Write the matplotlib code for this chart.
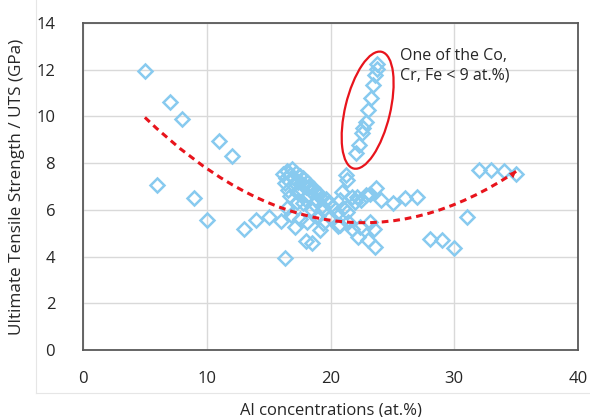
import numpy as np
import matplotlib
matplotlib.use('Agg')
import matplotlib.pyplot as plt
from matplotlib.patches import Ellipse, PathPatch
from matplotlib.path import Path
from matplotlib.lines import Line2D
import matplotlib.transforms as mtransforms

plt.rcParams['font.family'] = ['Open Sans', 'DejaVu Sans']

# ======================
# DATA
# ======================

# isolated low-Al alloys
al_low = [5.0, 7.0, 8.0, 11.0, 12.0, 6.0, 9.0, 10.0, 13.0, 14.0, 15.0, 16.0, 16.3]
uts_low = [11.95, 10.62, 9.9, 8.95, 8.3, 7.07, 6.5, 5.57, 5.18, 5.55, 5.7, 5.52, 3.94]

# dense cluster 16-21 at.%
al_mid = [16.2, 16.5, 16.9, 16.3, 17.3, 17.8, 18.35, 18.9, 17.8, 17.1, 18.1,
          18.0, 18.5, 19.15, 19.4, 19.96, 19.42, 20.2, 20.5, 20.63, 20.77, 20.9,
          17.2, 17.5, 18.1, 18.6, 19.1, 19.6, 17.0, 17.6, 18.2, 18.7, 19.3,
          16.7, 17.3, 16.5, 16.8, 17.5, 19.0, 18.5,
          16.4, 16.7, 17.0, 17.4, 17.7, 18.0, 18.3, 18.8, 19.2, 19.8, 16.6, 17.9]
uts_mid = [7.55, 7.65, 7.75, 7.15, 6.78, 7.37, 6.85, 6.42, 6.28, 5.28, 5.5,
           4.68, 4.6, 5.14, 5.42, 5.7, 6.0, 6.14, 5.85, 5.31, 6.42, 6.78,
           7.6, 7.45, 7.2, 6.95, 6.7, 6.45, 7.05, 6.9, 6.6, 6.25, 6.15,
           6.6, 6.35, 6.1, 5.8, 5.6, 5.75, 6.0,
           7.35, 7.5, 7.4, 7.2, 7.1, 7.0, 7.0, 6.75, 6.5, 6.3, 6.85, 6.45]

# 21-27 at.%
al_hi = [21.25, 21.3, 21.7, 22.0, 22.5, 22.9, 23.2, 23.7, 24.1, 25.07, 26.0, 27.0,
         21.3, 21.4, 22.4, 23.2, 21.7, 22.25, 23.05, 23.6, 23.5, 21.0, 22.1, 20.77]
uts_hi = [7.5, 7.3, 6.57, 6.35, 6.42, 6.64, 6.7, 6.92, 6.42, 6.3, 6.52, 6.57,
          5.92, 5.5, 5.28, 5.5, 5.17, 4.85, 4.71, 4.42, 5.17, 6.1, 6.56, 5.35]

# Co, Cr or Fe < 9 at.%
al_ell = [23.73, 23.78, 23.6, 23.46, 23.27, 23.05, 22.87, 22.65, 22.52, 22.28, 22.04]
uts_ell = [12.23, 12.02, 11.77, 11.34, 10.78, 10.27, 9.75, 9.49, 9.28, 8.78, 8.42]

# > 27 at.%
al_top = [28.0, 29.0, 30.0, 31.0, 32.0, 33.0, 34.0, 35.0]
uts_top = [4.74, 4.71, 4.38, 5.7, 7.7, 7.7, 7.68, 7.55]

al = al_low + al_mid + al_hi + al_ell + al_top
uts = uts_low + uts_mid + uts_hi + uts_ell + uts_top

# trend arrow: start, control, end
trend_x = [5.0, 20.0, 35.0]
trend_y = [9.96, 2.3, 7.65]

# ======================
# FIGURE
# ======================

fig = plt.figure(figsize=(5.9, 4.17), dpi=100)
ax = fig.add_axes([0.1407, 0.1607, 0.839, 0.784])

ax.plot(al, uts, linestyle='none', marker='D', ms=7, mfc='none',
        mec='#88caef', mew=1.8, zorder=3)

# trend curve
verts = list(zip(trend_x, trend_y))
curve = PathPatch(Path(verts, [Path.MOVETO, Path.CURVE3, Path.CURVE3]),
                  fill=False, edgecolor='#e8141c', lw=2.2, linestyle=(0, (2.2, 1.6)),
                  zorder=4)
ax.add_patch(curve)
ax.annotate('', xy=(trend_x[2], trend_y[2]), xytext=(34.3, 7.33),
            arrowprops=dict(arrowstyle='-|>', color='#e8141c', lw=0,
                            mutation_scale=12, shrinkA=0, shrinkB=0), zorder=4)

# ellipse round the low Co/Cr/Fe group (size in inches)
ell_tr = fig.dpi_scale_trans + mtransforms.ScaledTranslation(23.0, 10.27, ax.transData)
ax.add_patch(Ellipse((0, 0), 0.45, 1.2, angle=-13.5, fill=False,
                     edgecolor='#e8141c', lw=1.6, transform=ell_tr, zorder=4))

ax.text(25.6, 12.95, 'One of the Co,\nCr, Fe < 9 at.%)', fontsize=11.5,
        va='top', ha='left', color='#262626', linespacing=1.35)

ax.set_xlim(0, 40)
ax.set_ylim(0, 14)
ax.set_xticks([0, 10, 20, 30, 40])
ax.set_yticks(range(0, 15, 2))
ax.grid(True, color='#d9d9d9', lw=1)
ax.set_axisbelow(True)
ax.tick_params(length=0, labelsize=12, labelcolor='#262626')
ax.tick_params(axis='y', pad=20)
ax.tick_params(axis='x', pad=15)
for s in ax.spines.values():
    s.set_color('#595959')
    s.set_linewidth(1.3)

ax.set_xlabel('Al concentrations (at.%)', fontsize=12, color='#262626', labelpad=11)
ax.set_ylabel('Ultimate Tensile Strength / UTS (GPa)', fontsize=12.3, color='#262626', labelpad=8)

# faint frame of the chart area
fig.add_artist(Line2D([0.061, 0.061], [0.0576, 1.0], color='#e6e6e6', lw=0.8))
fig.add_artist(Line2D([0.061, 1.0], [0.0576, 0.0576], color='#e6e6e6', lw=0.8))

fig.savefig('out.png', dpi=100)
